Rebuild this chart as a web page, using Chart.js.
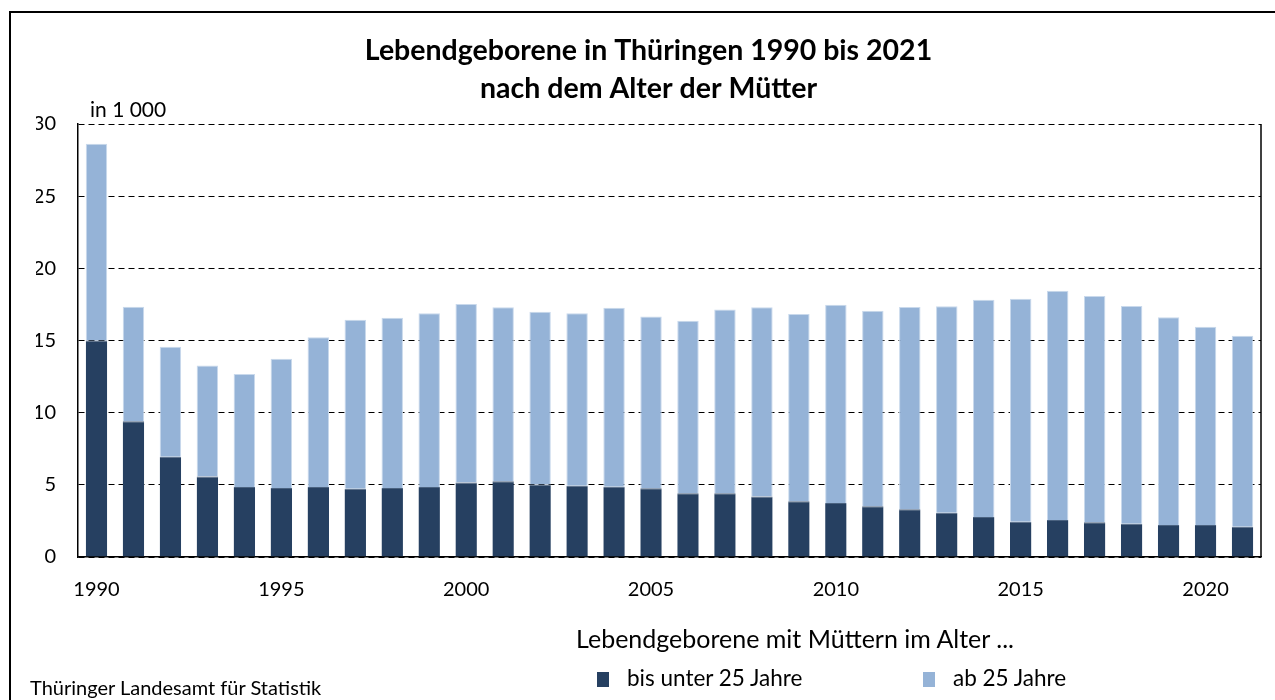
<!DOCTYPE html>
<html lang="de">
<head>
<meta charset="utf-8">
<title>Lebendgeborene in Thüringen 1990 bis 2021</title>
<script src="https://cdn.jsdelivr.net/npm/chart.js@4.4.1/dist/chart.umd.min.js"></script>
<style>
    html, body { margin: 0; padding: 0; background: #fff; }
    body { width: 1275px; height: 700px; position: relative; overflow: hidden; font-family: Lato, sans-serif; color: #000; }
    #frame { position: absolute; left: 9px; top: 11px; width: 1300px; height: 720px; border-left: 2px solid #000; border-top: 2px solid #000; }
    #wrap { position: absolute; left: 0; top: 0; width: 1275px; height: 700px; }
    .unit { position: absolute; left: 90px; top: 96px; font-size: 21px; }
    .legendTitle { position: absolute; left: 576px; top: 623px; font-size: 25px; }
    .legendItem { position: absolute; top: 664px; font-size: 22.5px; }
    .legendItem span.box { display: inline-block; width: 12px; height: 15px; margin-right: 18px; vertical-align: -1px; }
    .source { position: absolute; left: 30px; top: 675px; font-size: 20px; }
</style>
</head>
<body>
<div id="frame"></div>
<div id="wrap"><canvas id="birthsChart"></canvas></div>
<div class="unit">in 1 000</div>
<div class="legendTitle">Lebendgeborene mit Müttern im Alter ...</div>
<div id="legend"></div>
<div class="source">Thüringer Landesamt für Statistik</div>
<script>
const years = ["1990", "1991", "1992", "1993", "1994", "1995", "1996", "1997", "1998", "1999",
               "2000", "2001", "2002", "2003", "2004", "2005", "2006", "2007", "2008", "2009",
               "2010", "2011", "2012", "2013", "2014", "2015", "2016", "2017", "2018", "2019",
               "2020", "2021"];

// Lebendgeborene in 1 000, Mütter unter 25 Jahre
const under25 = [15.0, 9.4, 6.95, 5.57, 4.85, 4.78, 4.85, 4.73, 4.78, 4.85,
                 5.17, 5.24, 5.03, 4.94, 4.87, 4.76, 4.41, 4.41, 4.2, 3.86,
                 3.74, 3.51, 3.3, 3.07, 2.77, 2.45, 2.56, 2.4, 2.31, 2.22,
                 2.22, 2.1];

// insgesamt (Höhe der gestapelten Säule)
const totals = [28.64, 17.34, 14.57, 13.26, 12.68, 13.74, 15.22, 16.44, 16.58, 16.88,
                17.53, 17.3, 17.0, 16.88, 17.27, 16.67, 16.37, 17.14, 17.3, 16.84,
                17.48, 17.07, 17.32, 17.37, 17.83, 17.9, 18.45, 18.08, 17.39, 16.61,
                15.96, 15.33];

const over25 = totals.map((t, i) => Math.round((t - under25[i]) * 100) / 100);

const yTicks = [0, 5, 10, 15, 20, 25, 30];
const seriesLabels = ["bis unter 25 Jahre", "ab 25 Jahre"];
const seriesColors = ["#264061", "#95b3d7"];

const frameRight = {
    id: "frameRight",
    afterDraw(chart) {
        const { ctx, chartArea } = chart;
        ctx.save();
        ctx.strokeStyle = "#000";
        ctx.lineWidth = 1.5;
        ctx.beginPath();
        ctx.moveTo(chartArea.right, chartArea.top);
        ctx.lineTo(chartArea.right, chartArea.bottom);
        ctx.stroke();
        ctx.restore();
    }
};

document.addEventListener("DOMContentLoaded", function () {
    const ctx = document.getElementById("birthsChart").getContext("2d");

    const chart = new Chart(ctx, {
        type: "bar",
        data: {
            labels: years,
            datasets: [
                {
                    label: seriesLabels[0],
                    data: under25,
                    backgroundColor: seriesColors[0],
                    borderColor: "#4a6280",
                    borderWidth: { top: 1, left: 0, right: 0, bottom: 0 },
                    barPercentage: 0.58,
                    categoryPercentage: 1
                },
                {
                    label: seriesLabels[1],
                    data: over25,
                    backgroundColor: seriesColors[1],
                    borderColor: "#c9d9ec",
                    borderWidth: 1,
                    borderSkipped: "bottom",
                    barPercentage: 0.58,
                    categoryPercentage: 1
                }
            ]
        },
        options: {
            responsive: true,
            maintainAspectRatio: false,
            animation: false,
            layout: {
                padding: { left: 36, right: 14, top: 0, bottom: 0 }
            },
            plugins: {
                legend: { display: false },
                tooltip: { enabled: false },
                title: {
                    display: true,
                    text: ["Lebendgeborene in Thüringen 1990 bis 2021", "nach dem Alter der Mütter"],
                    color: "#000",
                    font: { family: "Lato", size: 28.5, weight: "bold", lineHeight: 1.33 },
                    padding: { top: 32, bottom: 16.2 }
                }
            },
            scales: {
                x: {
                    stacked: true,
                    grid: { display: false, drawTicks: false },
                    border: { display: true, color: "#000", width: 1.5 },
                    ticks: {
                        autoSkip: false,
                        maxRotation: 0,
                        padding: 21,
                        color: "#000",
                        font: { family: "Lato", size: 20 },
                        callback: function (value) {
                            const y = this.getLabelForValue(value);
                            return Number(y) % 5 === 0 ? y : "";
                        }
                    },
                    afterFit: function (scale) { scale.height = 143; }
                },
                y: {
                    stacked: true,
                    min: 0,
                    max: 30,
                    afterBuildTicks: function (scale) {
                        scale.ticks = yTicks.map(v => ({ value: v }));
                    },
                    grid: { color: "#000", lineWidth: 1, drawTicks: false },
                    border: { display: true, color: "#000", width: 1.5, dash: [6, 4] },
                    ticks: {
                        padding: 22,
                        color: "#000",
                        font: { family: "Lato", size: 20 }
                    },
                    afterFit: function (scale) { scale.width = 42; }
                }
            }
        },
        plugins: [frameRight]
    });

    const legend = document.getElementById("legend");
    const legendX = [597, 923];
    chart.data.datasets.forEach(function (ds, i) {
        const item = document.createElement("div");
        item.className = "legendItem";
        item.style.left = legendX[i] + "px";
        item.innerHTML = '<span class="box" style="background:' + ds.backgroundColor + '"></span>' + ds.label;
        legend.appendChild(item);
    });
});
</script>
</body>
</html>
